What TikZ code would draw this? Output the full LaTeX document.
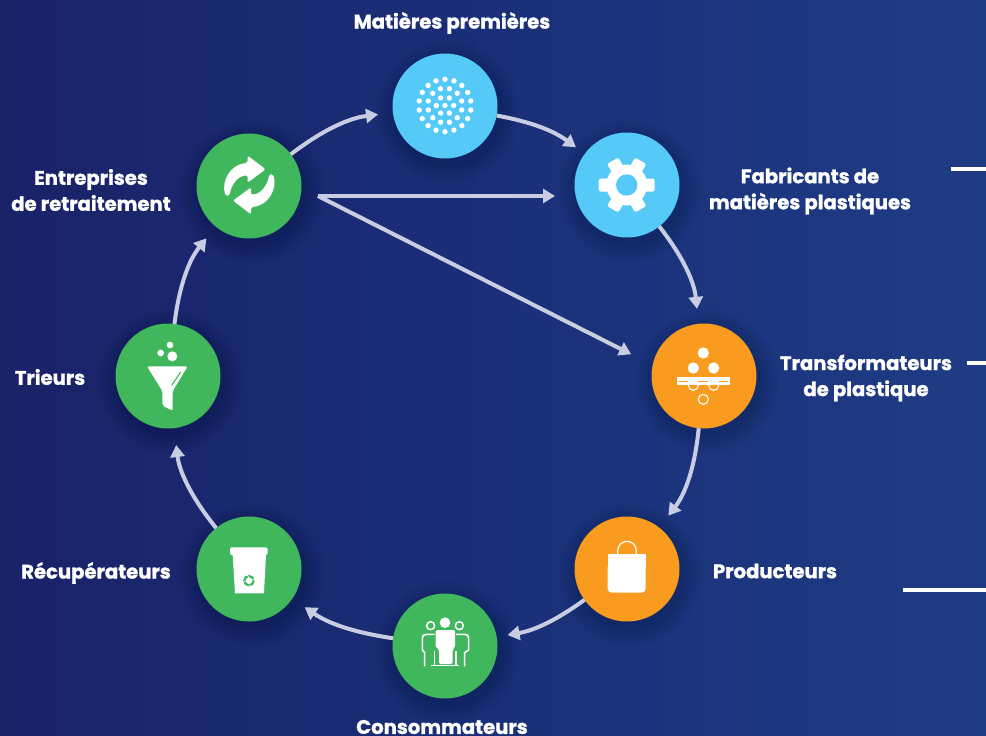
\documentclass[tikz,border=0pt]{standalone}
\usepackage{fontspec}
\setmainfont{Poppins}[BoldFeatures={FakeBold=1.2}]
\usetikzlibrary{arrows.meta,calc}
\definecolor{bgL}{HTML}{1A2268}
\definecolor{bgM}{HTML}{1A2F78}
\definecolor{bgR}{HTML}{1E3C84}
\definecolor{cblue}{HTML}{55C9F7}
\definecolor{cgreen}{HTML}{40B75C}
\definecolor{corange}{HTML}{F99B1E}
\definecolor{flowc}{HTML}{C9CDE2}
\tikzset{
  stage/.style={circle,minimum size=105pt,inner sep=0pt,outer sep=0pt,fill=#1},
  lbl/.style={text=white,font=\fontsize{19.6}{26}\selectfont\bfseries,align=center,inner sep=0pt},
  flow/.style={draw=flowc,line width=4pt,-{Triangle[length=12pt,width=14pt]}},
  tick/.style={draw=white,line width=3.4pt},
  zoomed/.style={shift={#1},scale=1/3},
}
\newcommand{\softshadow}[2]{%
  \foreach \r in {54,56,...,72}{\fill[black,opacity=.012] (#1+3,#2+6) circle[radius=\r];}}
\begin{document}
\begin{tikzpicture}[x=1pt,y=-1pt]
\useasboundingbox (0,0) rectangle (986,736);
\shade[left color=bgL,right color=bgR,middle color=bgM] (0,0) rectangle (986,736);
% shadows
\softshadow{445}{106}\softshadow{627}{185}\softshadow{704}{376}\softshadow{627}{569}
\softshadow{445}{646}\softshadow{249}{569}\softshadow{168}{376}\softshadow{249}{186}
% stages
\node[stage=cblue] (mat) at (445,106) {};
\node[stage=cblue] (fab) at (627,185) {};
\node[stage=corange] (tra) at (704,376) {};
\node[stage=corange] (pro) at (627,569) {};
\node[stage=cgreen] (con) at (445,646) {};
\node[stage=cgreen] (rec) at (249,569) {};
\node[stage=cgreen] (tri) at (168,376) {};
\node[stage=cgreen] (ent) at (249,186) {};
% connectors
\draw[flow,shorten >=15pt] (ent) to[bend left=15] (mat);
\draw[flow,shorten >=11pt] (mat) to[bend left=13] (fab);
\draw[flow,shorten >=15pt] (fab) to[bend left=16] (tra);
\draw[flow,shorten >=15pt] (tra) to[bend left=16] (pro);
\draw[flow,shorten >=11pt] (pro) to[bend left=13] (con);
\draw[flow,shorten >=15pt] (con) to[bend left=13] (rec);
\draw[flow,shorten >=17pt] (rec) to[bend left=16] (tri);
\draw[flow,shorten >=15pt] (tri) to[bend left=16] (ent);
\coordinate (hub) at (318,196);
\draw[flow,shorten >=19.5pt] (hub) -- (hub -| fab.west);
\draw[flow,shorten >=24pt] (hub) -- (tra.168);
% labels
\node[lbl] (lmat) at (452,23) {Matières premières};
\node[lbl] (lfab) at (810,191) {Fabricants de\\matières plastiques};
\node[lbl] (lent) at (91,190) {Entreprises\\de retraitement};
\node[lbl] (ltra) at (866,378) {Transformateurs\\de plastique};
\node[lbl] (ltri) at (50,377) {Trieurs};
\node[lbl] (lrec) at (96,573) {Récupérateurs};
\node[lbl] (lpro) at (775,571) {Producteurs};
\node[lbl] (lcon) at (442,727) {Consommateurs};
% right ticks
\coordinate (t1a) at (951,169); \coordinate (t1b) at (986,169);
\coordinate (t2a) at (967,363); \coordinate (t2b) at (986,363);
\coordinate (t3a) at (903,590); \coordinate (t3b) at (986,590);
\draw[tick] (t1a) -- (t1b);
\draw[tick] (t2a) -- (t2b);
\draw[tick] (t3a) -- (t3b);
% raw-material dots
\fill[white] (445,105.5) circle[radius=2.7];
\foreach \a in {0,60,...,300}{\fill[white] ($(445,105.5)+(\a:8.7)$) circle[radius=2.7];}
\foreach \a in {15,45,...,345}{\fill[white] ($(445,105.5)+(\a:17.3)$) circle[radius=2.7];}
\foreach \a in {10,30,...,350}{\fill[white] ($(445,105.5)+(\a:26.2)$) circle[radius=2.7];}
% gear
\foreach \a in {0,60,...,300}{
  \fill[white,rounded corners=1.6pt,rotate around={\a:(626.7,185)}] (640,178.5) rectangle (654.7,191.5);}
\fill[white] (626.7,185) circle[radius=20.5];
\fill[cblue] (626.7,185) circle[radius=10.7];
% moulding icon
\begin{scope}[zoomed={(640,310)}]
\draw[white,line width=1.1pt] (160,226) circle[radius=15] (221,226) circle[radius=15] (190,268) circle[radius=15];
\fill[white] (112,200) rectangle (270,225);
\fill[white] (190,129) circle[radius=17] (160,174) circle[radius=17] (221,174) circle[radius=17];
\foreach \xa/\xb in {118/145,175/205,237/264}{\fill[corange] (\xa,213) rectangle (\xb,217);}
\end{scope}
% bag
\begin{scope}[zoomed={(380,510)}]
\fill[white,rounded corners=4pt] (683,160) -- (683,248) -- (797,248) -- (797,160) -- cycle;
\fill[white] (683,132) rectangle (797,170);
\draw[white,line width=1.2pt] (713,132) -- (713,122) arc[start angle=180,end angle=360,radius=28] -- (769,132);
% people
\fill[white] (195,338) circle[radius=16];
\draw[white,line width=1.5pt] (152,347) circle[radius=12] (238,347) circle[radius=12];
\fill[white,rounded corners=1.5pt] (167,412) -- (167,368) .. controls (167,362) and (172,360) .. (178,360) -- (214,360) .. controls (220,360) and (225,362) .. (225,368) -- (225,412) -- (218,418) -- (218,462) -- (177,462) -- (177,418) -- cycle;
\draw[white,line width=1.6pt] (152,467) -- (238,467);
\draw[white,line width=1.6pt] (134,469) -- (134,428) -- (127,420) -- (127,385) .. controls (127,377) and (131,373) .. (139,373) -- (164,373);
\draw[white,line width=1.6pt] (254,469) -- (254,428) -- (266,420) -- (266,385) .. controls (266,377) and (262,373) .. (254,373) -- (228,373);
\draw[white,line width=1.6pt] (163,422) -- (163,465) (228,422) -- (228,465);
\end{scope}
% funnel
\begin{scope}[zoomed={(100,320)}]
\fill[white,rounded corners=2pt] (141,139) -- (263,139) -- (218,213) -- (218,272) -- (187,257) -- (187,213) -- cycle;
\draw[cgreen,line width=1.1pt] (242,156) -- (215,196);
\fill[white] (182,99) circle[radius=10] (210,75) circle[radius=10] (217,109) circle[radius=15];
\end{scope}
% recycling arrows
\begin{scope}[zoomed={(185,120)}]
\foreach \a in {0,180}{
\fill[white,rounded corners=2pt,rotate around={\a:(193,195)}] (188,107) -- (242,148) -- (188,188) -- (188,166) .. controls (160,168) and (140,190) .. (133,228) -- (122,228) .. controls (108,185) and (135,133) .. (188,129) -- cycle;}
\end{scope}
% bin
\begin{scope}[zoomed={(185,505)}]
\fill[white,rounded corners=1.5pt] (135,127) rectangle (248,150);
\fill[white] (143,150) -- (243,150) -- (237,265) -- (150,265) -- cycle;
\draw[cgreen,line width=2.2pt,dash pattern=on 6pt off 1pt] (192,227) circle[radius=14];
\end{scope}
\end{tikzpicture}
\end{document}
